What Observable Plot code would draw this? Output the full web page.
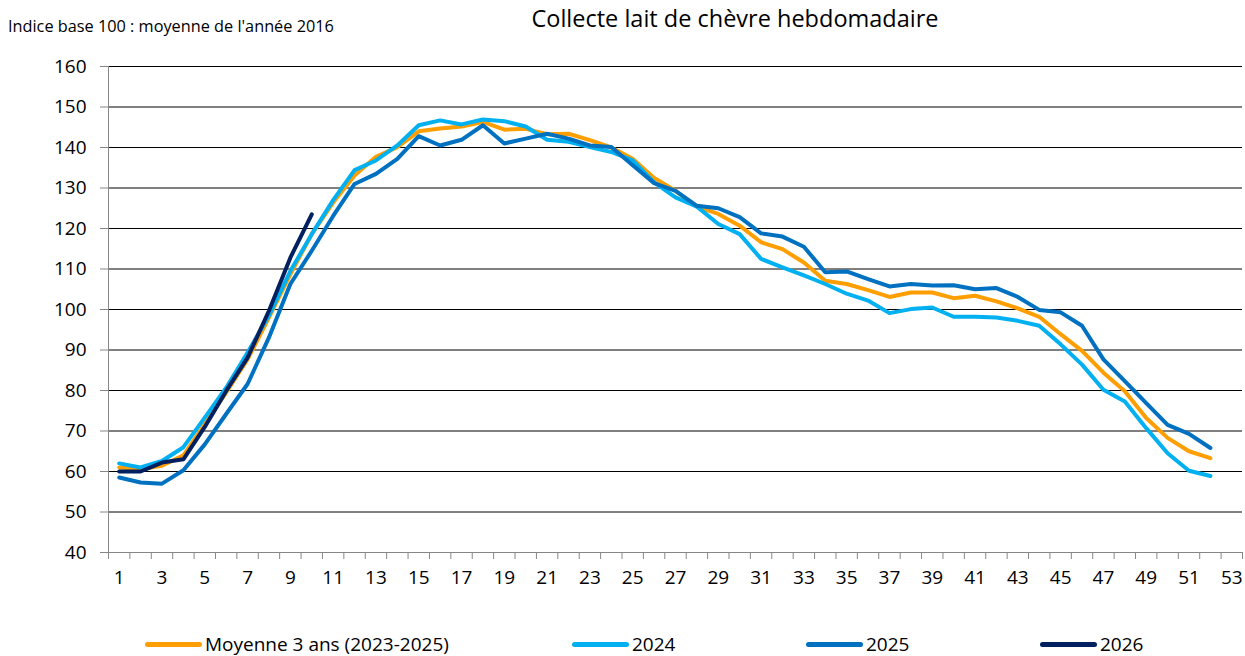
<!DOCTYPE html>
<html>
<head>
<meta charset="utf-8">
<script src="https://cdn.jsdelivr.net/npm/d3@7"></script>
<script src="https://cdn.jsdelivr.net/npm/@observablehq/plot@0.6"></script>
<style>
  body { margin: 0; background: #fff; font-family: "Open Sans", Lato, sans-serif; color: #000; }
  #wrap { position: relative; width: 1245px; height: 656px; overflow: hidden; }
  #sub { position: absolute; left: 8px; top: 16px; font-size: 16.3px; line-height: 20px; white-space: nowrap; }
  #title { position: absolute; left: 735px; top: 2px; transform: translateX(-50%); font-size: 23.5px; white-space: nowrap; }
  #chart { position: absolute; left: 0; top: 40px; }
  .leg { position: absolute; top: 634px; height: 20px; line-height: 20px; display: flex; align-items: center; font-size: 19px; white-space: nowrap; }
  .sw { width: 57px; height: 5px; border-radius: 3px; margin-right: 3px; }
</style>
</head>
<body>
<div id="wrap">
  <div id="sub">Indice base 100 : moyenne de l'année 2016</div>
  <div id="title">Collecte lait de chèvre hebdomadaire</div>
  <div id="chart"></div>
  <div id="legend"></div>
</div>
<script>
// ---- Data (weekly index, base 100 = 2016 average) ----
const seriesNames = ["Moyenne 3 ans (2023-2025)", "2024", "2025", "2026"];
const seriesColors = ["#FF9E00", "#00B0F0", "#0070C0", "#002060"];
const legendX = [145, 572, 806, 1040];

const moyenne = [61, 60.6, 61.4, 64, 71.7, 79.5, 87.7, 98, 108.7, 118.6, 126.4, 133.1, 137.7, 140.1, 144, 144.7, 145.2, 146.3, 144.4, 144.6, 143.3, 143.4, 141.8, 140, 137.2, 132.5, 129.3, 125.4, 123.6, 120.7, 116.6, 114.9, 111.6, 107.1, 106.3, 104.8, 103.1, 104.2, 104.2, 102.8, 103.4, 102, 100.3, 98.2, 93.9, 89.8, 84.4, 79.8, 73.2, 68.3, 65, 63.3];
const y2024 = [62, 61, 62.6, 66, 73.3, 80.7, 89.4, 98.5, 109.5, 118.6, 127, 134.4, 136.8, 140.5, 145.5, 146.7, 145.7, 146.9, 146.5, 145.2, 141.9, 141.4, 140.1, 138.9, 136.8, 131.4, 127.7, 125.4, 121.1, 118.6, 112.5, 110.4, 108.4, 106.3, 103.9, 102.2, 99.1, 100.1, 100.5, 98.2, 98.2, 98, 97.2, 96, 91.4, 86.4, 80.2, 77.3, 70.7, 64.5, 60.2, 58.9];
const y2025 = [58.5, 57.3, 57, 60.3, 66.7, 74.2, 81.6, 93.1, 106.3, 114.5, 123.1, 131, 133.5, 137.2, 142.8, 140.5, 141.9, 145.5, 141, 142.2, 143.4, 142.2, 140.5, 140.1, 135.6, 131.2, 129.3, 125.6, 125, 122.8, 118.8, 118, 115.5, 109.2, 109.4, 107.5, 105.7, 106.3, 105.9, 106, 105, 105.3, 103.1, 99.9, 99.3, 96, 87.7, 82.3, 76.9, 71.5, 69.3, 65.8];
const y2026 = [60, 60, 62.2, 63, 71, 79.9, 88.1, 99.7, 112.8, 123.5];

const xTickLabels = [1, 3, 5, 7, 9, 11, 13, 15, 17, 19, 21, 23, 25, 27, 29, 31, 33, 35, 37, 39, 41, 43, 45, 47, 49, 51, 53];
const yTicks = [40, 50, 60, 70, 80, 90, 100, 110, 120, 130, 140, 150, 160];

// ---- Build table ----
const allValues = [moyenne, y2024, y2025, y2026];
const rows = allValues.flatMap((vals, s) => vals.map((v, i) => ({ week: i + 1, value: v, serie: seriesNames[s] })));
const nWeeks = xTickLabels[xTickLabels.length - 1];
const boundaries = d3.range(0.5, nWeeks + 1, 1);

const chart = Plot.plot({
  width: 1245,
  height: 560,
  marginLeft: 108,
  marginRight: 3,
  marginTop: 26,
  marginBottom: 48,
  style: { fontFamily: "'Open Sans', Lato, sans-serif", fontSize: "19px", color: "#000", background: "#fff" },
  x: { domain: [0.5, nWeeks + 0.5] },
  y: { domain: [40, 160] },
  color: { domain: seriesNames, range: seriesColors },
  marks: [
    Plot.gridY(yTicks, { stroke: "#000", strokeOpacity: 1, strokeWidth: 1 }),
    Plot.ruleY([40], { stroke: "#868686", strokeWidth: 1 }),
    Plot.ruleX([0.5], { stroke: "#868686", strokeWidth: 1 }),
    Plot.axisY(yTicks, { tickSize: 8, tickPadding: 14, stroke: "#868686", fontSize: 19, label: null }),
    Plot.axisX(boundaries, { tickSize: 7, stroke: "#868686", text: null, label: null }),
    Plot.axisX(xTickLabels, { tickSize: 0, tickPadding: 18, fontSize: 19, label: null }),
    Plot.line(rows, { x: "week", y: "value", z: "serie", stroke: "serie", strokeWidth: 4, strokeLinejoin: "round", strokeLinecap: "round" })
  ]
});
document.getElementById("chart").appendChild(chart);

// ---- Legend ----
const leg = document.getElementById("legend");
seriesNames.forEach((name, i) => {
  const d = document.createElement("div");
  d.className = "leg";
  d.style.left = legendX[i] + "px";
  d.innerHTML = `<div class="sw" style="background:${seriesColors[i]}"></div><span>${name}</span>`;
  leg.appendChild(d);
});
</script>
</body>
</html>
